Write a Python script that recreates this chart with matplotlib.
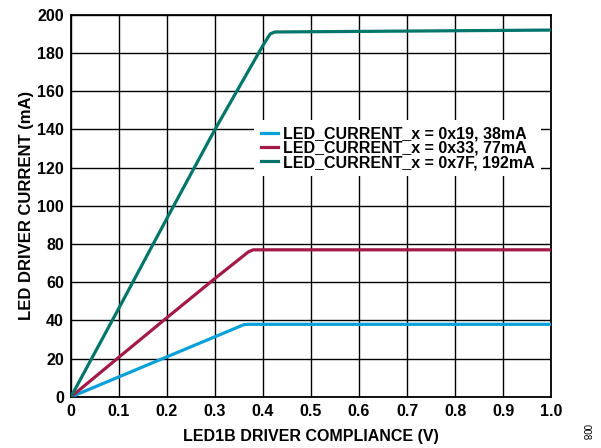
import numpy as np
import matplotlib.pyplot as plt

plt.rcParams['font.family'] = ['Liberation Sans', 'DejaVu Sans']
plt.rcParams['font.weight'] = 'bold'

# compliance voltage (V) vs LED driver current (mA)
v_38 = [0.0, 0.1, 0.2, 0.3, 0.36, 0.37, 1.0]
i_38 = [0.0, 10.5, 21.0, 31.5, 37.8, 38.0, 38.0]

v_77 = [0.0, 0.1, 0.2, 0.3, 0.37, 0.38, 1.0]
i_77 = [0.0, 20.8, 41.5, 62.0, 76.0, 77.0, 77.0]

v_192 = [0.0, 0.1, 0.2, 0.3, 0.4, 0.415, 0.425, 0.6, 1.0]
i_192 = [0.0, 46.5, 93.5, 140.0, 184.0, 190.0, 191.0, 191.3, 192.0]

labels = ['LED_CURRENT_x = 0x19, 38mA',
          'LED_CURRENT_x = 0x33, 77mA',
          'LED_CURRENT_x = 0x7F, 192mA']
colors = ['#0aa0d8', '#a31a48', '#00766b']

fig = plt.figure(figsize=(6.01, 4.48), dpi=100)
ax = fig.add_axes([0.118, 0.114, 0.799, 0.853])

for v, i, lab, c in zip([v_38, v_77, v_192], [i_38, i_77, i_192], labels, colors):
    ax.plot(v, i, color=c, lw=2.3, label=lab, solid_joinstyle='round', zorder=3)

ax.set_xlim(0, 1.0)
ax.set_ylim(0, 200)
ax.set_xticks(np.arange(0, 1.01, 0.1))
ax.set_xticklabels(['0'] + ['%.1f' % t for t in np.arange(0.1, 1.01, 0.1)])
ax.set_yticks(np.arange(0, 201, 20))
ax.grid(True, color='black', lw=1.0)
ax.tick_params(length=0, labelsize=11.5, pad=5)
for s in ax.spines.values():
    s.set_linewidth(1.3)

ax.set_xlabel('LED1B DRIVER COMPLIANCE (V)', fontsize=11.5, fontweight='bold', labelpad=7)
ax.set_ylabel('LED DRIVER CURRENT (mA)', fontsize=12, fontweight='bold', labelpad=2)

leg = ax.legend(loc='upper left', bbox_to_anchor=(0.365, 0.745), frameon=True,
                fontsize=11.5, handlelength=1.1, handletextpad=0.3,
                labelspacing=-0.05, borderpad=0.4, fancybox=False)
leg.get_frame().set_edgecolor('none')
leg.get_frame().set_facecolor('white')
leg.get_frame().set_alpha(1.0)
for t in leg.get_texts():
    t.set_fontweight('bold')

fig.text(0.974, 0.035, '008', rotation=270, fontsize=7, fontweight='normal',
         ha='center', va='center')

fig.savefig('out.png', dpi=100)
